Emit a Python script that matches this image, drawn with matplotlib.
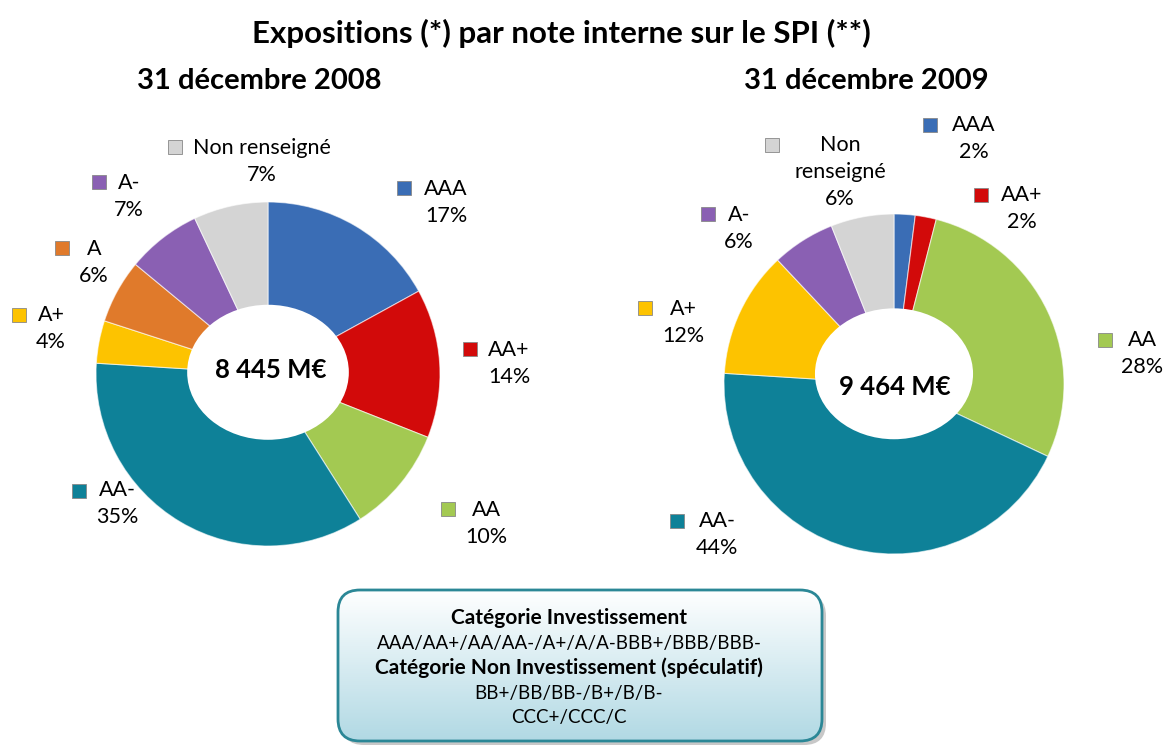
import matplotlib.pyplot as plt
import numpy as np
from matplotlib.patches import FancyBboxPatch, Ellipse
from matplotlib.colors import LinearSegmentedColormap
from matplotlib.lines import Line2D

plt.rcParams['font.family'] = ['Lato', 'DejaVu Sans']

# data
labels_2008 = ['AAA', 'AA+', 'AA', 'AA-', 'A+', 'A', 'A-', 'Non renseigné']
pct_2008 = [17, 14, 10, 35, 4, 6, 7, 7]
labels_2009 = ['AAA', 'AA+', 'AA', 'AA-', 'A+', 'A-', 'Non renseigné']
pct_2009 = [2, 2, 28, 44, 12, 6, 6]
total_2008 = '8 445 M€'
total_2009 = '9 464 M€'

colors = {'AAA': '#3a6db5', 'AA+': '#d20a0a', 'AA': '#a3c952', 'AA-': '#0e8198',
          'A+': '#fdc300', 'A': '#e07a2b', 'A-': '#8a60b3', 'Non renseigné': '#d4d4d4'}

W, H = 1163, 747
fig = plt.figure(figsize=(W / 100, H / 100), dpi=100)


def fx(x):
    return x / W


def fy(y):
    return 1 - y / H


# label layout in pixels: marker centre, text centre (first line)
layout_2008 = {
    'AAA': ((404, 188), (446, 191)),
    'AA+': ((470, 349), (509, 352)),
    'AA': ((448, 509), (486, 512)),
    'AA-': ((79, 491), (117, 492)),
    'A+': ((19, 315), (51, 317)),
    'A': ((62, 248), (94, 251)),
    'A-': ((99, 182), (129, 185)),
    'Non renseigné': ((175, 147), (262, 150)),
}
layout_2009 = {
    'AAA': ((930, 125), (974, 127)),
    'AA+': ((981, 195), (1022, 197)),
    'AA': ((1105, 340), (1142, 342)),
    'AA-': ((677, 521), (717, 523)),
    'A+': ((645, 308), (683, 311)),
    'A-': ((708, 214), (739, 217)),
    'Non renseigné': ((772, 145), (840, 147)),
}


def donut(cx, cy, r, labels, vals, layout, hole, wrap=False):
    ax = fig.add_axes([fx(cx - r), fy(cy + r), 2 * r / W, 2 * r / H])
    ax.pie(vals, colors=[colors[l] for l in labels], startangle=90, counterclock=False,
           wedgeprops=dict(edgecolor=(1, 1, 1, 0.6), linewidth=0.8))
    # hole of the ring (slightly flattened, as in the original 3D look)
    hx, hy, hw, hh = hole
    ax.add_patch(Ellipse((hx, hy), hw, hh, fc='white', ec='none', zorder=5))
    ax.set_xlim(-1, 1)
    ax.set_ylim(-1, 1)
    for lab, v in zip(labels, vals):
        (mx, my), (tx, ty) = layout[lab]
        c = colors[lab]
        fig.add_artist(Line2D([fx(mx)], [fy(my)], marker='s', markersize=10.5,
                              mfc=c, mec='#888888', mew=0.6, transform=fig.transFigure))
        name = lab.replace(' ', '\n') if wrap else lab
        fig.text(fx(tx), fy(ty - 12), f'{name}\n{v}%', ha='center', va='top',
                 fontsize=15.5, linespacing=1.45)
    return ax


donut(268, 374, 172, labels_2008, pct_2008, layout_2008, (0, 0.01, 0.94, 0.785))
donut(894, 384, 170, labels_2009, pct_2009, layout_2009, (0, 0.06, 0.93, 0.77), wrap=True)

fig.text(fx(271), fy(370), total_2008, ha='center', va='center', fontsize=18.5,
         fontweight='bold')
fig.text(fx(895), fy(387), total_2009, ha='center', va='center', fontsize=18.5,
         fontweight='bold')

fig.text(fx(561), fy(33), 'Expositions (*) par note interne sur le SPI (**)',
         ha='center', va='center', fontsize=22.5, fontweight='bold')
fig.text(fx(259), fy(81), '31 décembre 2008', ha='center', va='center',
         fontsize=21, fontweight='bold')
fig.text(fx(866), fy(81), '31 décembre 2009', ha='center', va='center',
         fontsize=21, fontweight='bold')

# explanation box with gradient fill
bx = fig.add_axes([0, 0, 1, 1], zorder=-1)
bx.set_xlim(0, W)
bx.set_ylim(H, 0)
bx.axis('off')
x0, y0, x1, y1 = 338, 590, 822, 741
shadow = FancyBboxPatch((x0 + 4, y0 + 4), x1 - x0, y1 - y0,
                        boxstyle='round,pad=0,rounding_size=22',
                        fc='#c8c8c8', ec='none')
bx.add_patch(shadow)
grad = np.linspace(0, 1, 256).reshape(-1, 1)
cmap = LinearSegmentedColormap.from_list('g', ['#ffffff', '#b1d9e4'])
img = bx.imshow(grad, extent=(x0, x1, y1, y0), cmap=cmap, aspect='auto',
                origin='upper', zorder=1)
fill = FancyBboxPatch((x0, y0), x1 - x0, y1 - y0, boxstyle='round,pad=0,rounding_size=22',
                      fc='none', ec='none', transform=bx.transData)
bx.add_patch(fill)
img.set_clip_path(fill)
box = FancyBboxPatch((x0, y0), x1 - x0, y1 - y0, boxstyle='round,pad=0,rounding_size=22',
                     fc='none', ec='#2b8796', lw=2, zorder=2)
bx.add_patch(box)
bx.set_xlim(0, W)
bx.set_ylim(H, 0)

lines = [('Catégorie Investissement', 'bold', 618),
         ('AAA/AA+/AA/AA-/A+/A/A-BBB+/BBB/BBB-', 'normal', 643),
         ('Catégorie Non Investissement (spéculatif)', 'bold', 668),
         ('BB+/BB/BB-/B+/B/B-', 'normal', 693),
         ('CCC+/CCC/C', 'normal', 717)]
for txt, w, y in lines:
    bx.text(569, y, txt, ha='center', va='center', fontsize=15 if w == 'bold' else 13.5,
            fontweight=w, zorder=3)

fig.savefig('out.png', dpi=100)
